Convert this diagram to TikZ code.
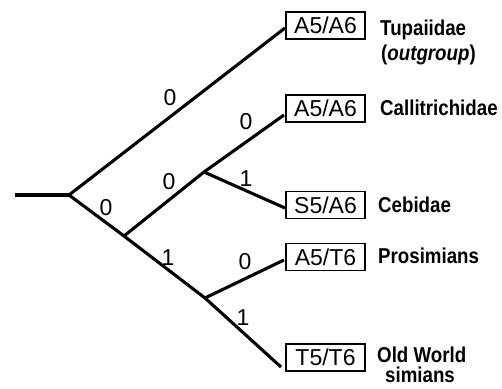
\documentclass[tikz,border=0pt]{standalone}
\usepackage{fontspec}
\setmainfont{Liberation Sans}
\newfontfamily\taxonfont[FakeStretch=0.87]{Liberation Sans}
\begin{document}
\begin{tikzpicture}[x=1pt,y=-1pt,
  branch/.style={line width=3.1pt},
  charbox/.style={draw, line width=1.8pt, minimum width=79pt, minimum height=27pt, inner sep=0pt, font=\fontsize{23}{23}\selectfont},
  taxon/.style={font=\taxonfont\fontsize{21.5}{21.5}\selectfont\bfseries, anchor=base west, inner sep=0pt},
  digit/.style={font=\fontsize{23}{23}\selectfont, inner sep=0pt}]
\useasboundingbox (0,0) rectangle (502,388);
% tree points
\coordinate (root) at (15,195);
\coordinate (A) at (69,195);
\coordinate (B) at (124,236);
\coordinate (C) at (204,172);
\coordinate (D) at (205,298);
\coordinate (eT) at (285,28);
\coordinate (eCa) at (284,115);
\coordinate (eCe) at (285,208);
\coordinate (eP) at (284,260);
\coordinate (eO) at (281,367);
% branches
\draw[branch] (root) -- (A);
\draw[branch] (A) -- (eT);
\draw[branch] (A) -- (B);
\draw[branch] (B) -- (C);
\draw[branch] (C) -- (eCa);
\draw[branch] (C) -- (eCe);
\draw[branch] (B) -- (D);
\draw[branch] (D) -- (eP);
\draw[branch] (D) -- (eO);
% state labels
\node[digit] (l1) at (170,98) {0};
\node[digit] (l2) at (106,207.5) {0};
\node[digit] (l3) at (169,182) {0};
\node[digit] (l4) at (246,122) {0};
\node[digit] (l5) at (246,179) {1};
\node[digit] (l6) at (168,258) {1};
\node[digit] (l7) at (245,261.5) {0};
\node[digit] (l8) at (243,317.5) {1};
% character boxes
\node[charbox] (bT) at (325.5,25.5) {A5/A6};
\node[charbox] (bCa) at (325.5,108.5) {A5/A6};
\node[charbox] (bCe) at (325.5,205) {S5/A6};
\node[charbox] (bP) at (325.5,257) {A5/T6};
\node[charbox] (bO) at (325.5,357.5) {T5/T6};
% taxa
\node[taxon] (tT) at (380,35) {Tupaiidae};
\node[taxon] (tT2) at (381,60) {(\textit{outgroup})};
\node[taxon] (tCa) at (380,115) {Callitrichidae};
\node[taxon] (tCe) at (378,212) {Cebidae};
\node[taxon] (tP) at (378,263) {Prosimians};
\node[taxon] (tO) at (377,362) {Old World};
\node[taxon, anchor=base] (tO2) at (420,382.5) {simians};
\end{tikzpicture}
\end{document}
